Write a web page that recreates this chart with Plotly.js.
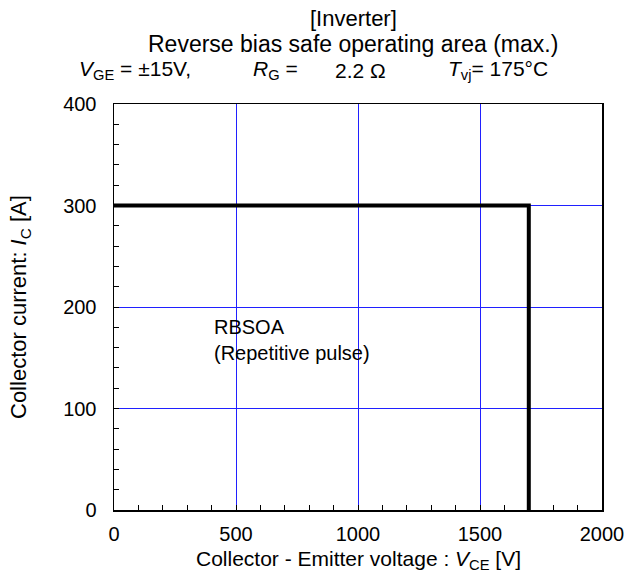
<!DOCTYPE html>
<html><head><meta charset="utf-8">
<script src="https://cdn.plot.ly/plotly-3.0.1.min.js"></script>
<style>html,body{margin:0;padding:0;background:#fff}</style>
</head><body><div id="chart" style="width:624px;height:575px"></div>
<script>
const vce = [0, 1700, 1700];
const ic = [300, 300, 0];
const xTicks = [0, 500, 1000, 1500, 2000];
const yTicks = [0, 100, 200, 300, 400];
const F = 'Liberation Sans, Arial, sans-serif';

const traces = [{
  x: vce, y: ic, type: 'scatter', mode: 'lines',
  line: {color: '#000', width: 4}, hoverinfo: 'skip', showlegend: false
}];

const ax = {
  showline: true, linecolor: '#000', linewidth: 1.5, mirror: true,
  showgrid: true, gridcolor: '#2020ff', gridwidth: 1,
  zeroline: false, ticks: 'inside', ticklen: 5, tickcolor: '#000',
  ticklabeloverflow: 'allow',
  tickfont: {family: F, size: 20, color: '#000'}
};

const layout = {
  width: 624, height: 575,
  margin: {l: 114, r: 22, t: 104, b: 65},
  paper_bgcolor: '#fff', plot_bgcolor: '#fff',
  font: {family: F, color: '#000'},
  showlegend: false,
  xaxis: Object.assign({}, ax, {
    range: [0, 2000], tickmode: 'array', tickvals: xTicks, ticktext: xTicks.map(String),
    ticklabelstandoff: 5,
    minor: {dtick: 100, ticks: 'inside', ticklen: 5, tickcolor: '#000', showgrid: false}
  }),
  yaxis: Object.assign({}, ax, {
    range: [0, 400], tickmode: 'array', tickvals: yTicks, ticktext: yTicks.map(String),
    ticklabelstandoff: 12,
    minor: {dtick: 20, ticks: 'inside', ticklen: 5, tickcolor: '#000', showgrid: false}
  }),
  annotations: [
    {text: '[Inverter]', xref: 'paper', yref: 'paper', x: 0.49, y: 1, yshift: 86, xanchor: 'center', yanchor: 'middle', showarrow: false, font: {family: F, size: 22}},
    {text: 'Reverse bias safe operating area (max.)', xref: 'paper', yref: 'paper', x: 0.49, y: 1, yshift: 60, xanchor: 'center', yanchor: 'middle', showarrow: false, font: {family: F, size: 23}},
    {text: '<i>V</i><sub>GE</sub> = ±15V,', xref: 'paper', yref: 'paper', x: 0, xshift: -37, y: 1, yshift: 34, xanchor: 'left', yanchor: 'middle', showarrow: false, font: {family: F, size: 21}},
    {text: '<i>R</i><sub>G</sub> =', xref: 'paper', yref: 'paper', x: 0, xshift: 137, y: 1, yshift: 34, xanchor: 'left', yanchor: 'middle', showarrow: false, font: {family: F, size: 21}},
    {text: '2.2 Ω', xref: 'paper', yref: 'paper', x: 0, xshift: 219, y: 1, yshift: 34, xanchor: 'left', yanchor: 'middle', showarrow: false, font: {family: F, size: 21}},
    {text: '<i>T</i><sub>vj</sub>= 175°C', xref: 'paper', yref: 'paper', x: 0, xshift: 332, y: 1, yshift: 34, xanchor: 'left', yanchor: 'middle', showarrow: false, font: {family: F, size: 21}},
    {text: 'Collector - Emitter voltage : <i>V</i><sub>CE</sub> [V]', xref: 'paper', yref: 'paper', x: 0.5, y: 0, yshift: -50, xanchor: 'center', yanchor: 'middle', showarrow: false, font: {family: F, size: 21}},
    {text: 'Collector current: <i>I</i><sub>C</sub> [A]', xref: 'paper', yref: 'paper', x: 0, xshift: -94, y: 0.5, textangle: -90, xanchor: 'center', yanchor: 'middle', showarrow: false, font: {family: F, size: 22}},
    {text: 'RBSOA', xref: 'x', yref: 'y', x: 400, y: 180, xanchor: 'left', yanchor: 'middle', showarrow: false, font: {family: F, size: 20}},
    {text: '(Repetitive pulse)', xref: 'x', yref: 'y', x: 400, y: 155, xanchor: 'left', yanchor: 'middle', showarrow: false, font: {family: F, size: 20}}
  ]
};
Plotly.newPlot('chart', traces, layout, {staticPlot: true, displayModeBar: false});
</script></body></html>
